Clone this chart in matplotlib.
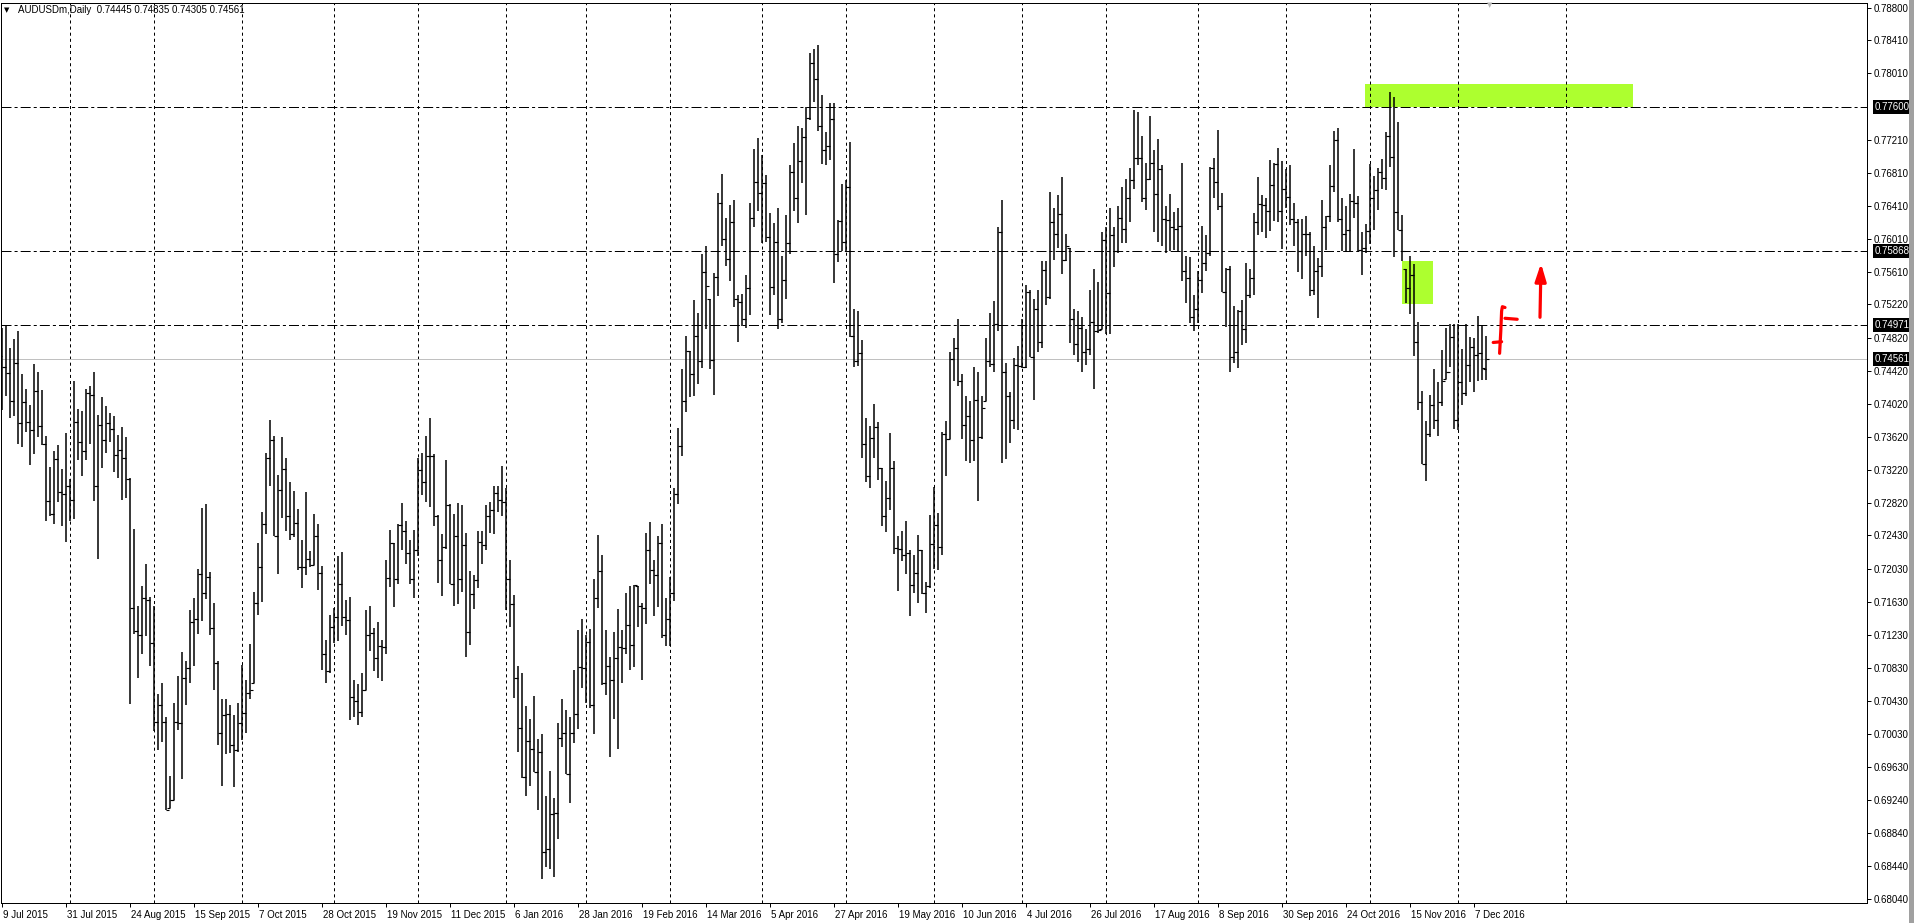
"""MetaTrader style daily bar chart of AUDUSD with the levels and zones drawn on it."""
import numpy as np
import matplotlib
matplotlib.use('Agg')
import matplotlib.pyplot as plt
import matplotlib.transforms as mtransforms
from matplotlib.patches import Rectangle, FancyArrowPatch

plt.rcParams['font.family'] = ['Liberation Sans', 'DejaVu Sans']
plt.rcParams['lines.scale_dashes'] = False

W, H = 1915, 923   # output size in pixels
PX = 0.72          # one pixel in points at dpi 100

SYMBOL = "AUDUSDm,Daily"

# Daily bars from 9 Jul 2015 to 12 Dec 2016, prices in pips (0.0001)
opens = [
    7460, 7446, 7439, 7406, 7451, 7379, 7404, 7380, 7370, 7418, 7375, 7353, 7285, 7269, 7335, 7295, 7293, 7303, 7286, 7380,
    7356, 7345, 7415, 7413, 7303, 7377, 7358, 7379, 7372, 7340, 7346, 7336, 7311, 7156, 7128, 7123, 7167, 7165, 7113, 7018,
    7038, 7018, 6914, 6924, 7018, 7017, 7071, 7083, 7138, 7142, 7197, 7173, 7193, 7131, 7089, 7004, 7026, 7028, 6990, 6984,
    7017, 7029, 7053,
    7065, 7162, 7205, 7257, 7336, 7358, 7242, 7298, 7323, 7267, 7245, 7258, 7205, 7205, 7215, 7207, 7242,
    7198, 7100, 7079, 7132, 7144, 7185, 7145, 7141, 7048, 7043, 7030, 7057, 7123, 7125, 7095, 7110, 7108, 7192, 7234, 7191,
    7256, 7249, 7222, 7191, 7225, 7322, 7307, 7339, 7339, 7267, 7213, 7229, 7280, 7185, 7242, 7191, 7232, 7127, 7172, 7189,
    7235, 7231, 7267, 7274, 7294, 7286, 7284, 7190, 7160, 7071, 7010, 6951, 6995, 6985, 6957, 6982, 6861, 6864, 6907, 6908,
    6998, 7004, 6955, 7005, 7027, 7084, 7083, 7114, 7038, 7167, 7200, 7065, 7085, 7069, 7095, 7108, 7107, 7135, 7111, 7182,
    7158, 7156, 7226, 7201, 7195, 7234, 7123, 7142, 7174, 7293, 7351, 7405, 7466, 7438, 7484, 7454, 7561, 7528, 7455, 7555,
    7645, 7601, 7577, 7621, 7529, 7525, 7505, 7542, 7626, 7670, 7657, 7669, 7603, 7543, 7598, 7504, 7551, 7596, 7682, 7651,
    7695, 7724, 7747, 7813, 7794, 7737, 7708, 7713, 7746, 7583, 7623, 7597, 7664, 7484, 7454, 7463, 7354, 7315, 7361, 7374,
    7325, 7267, 7288, 7324, 7228, 7227, 7219, 7222, 7183, 7198, 7226, 7173, 7182, 7233, 7256, 7229, 7366, 7360, 7456, 7470,
    7430, 7376, 7387, 7358, 7407, 7362, 7406, 7454, 7450, 7498, 7610, 7440, 7412, 7383, 7449, 7448, 7447, 7537, 7459, 7517,
    7477, 7564, 7531, 7622, 7607, 7631, 7576, 7590, 7504, 7474, 7494, 7465, 7468, 7501, 7490, 7492, 7600, 7536, 7606, 7586,
    7627, 7613, 7650, 7672, 7699, 7699, 7651, 7673, 7693, 7655, 7685, 7625, 7624, 7615, 7613, 7617, 7562, 7554, 7507, 7516,
    7551, 7572, 7584, 7687, 7670, 7641, 7537, 7565, 7459, 7465, 7514, 7492, 7534, 7554, 7622, 7643, 7642, 7635, 7666, 7692,
    7635, 7661, 7652, 7625, 7621, 7586, 7607, 7607, 7540, 7562, 7568, 7616, 7629, 7665, 7721, 7625, 7607, 7612, 7647, 7645,
    7588, 7590, 7611, 7651, 7660, 7682, 7675, 7726, 7700, 7634, 7612, 7565, 7542, 7558, 7477, 7404, 7329, 7366, 7401, 7383,
    7404, 7432, 7441, 7483, 7383, 7428, 7415, 7449, 7471, 7461, 7463, 7444.5,
]
highs = [
    7493, 7497, 7470, 7480, 7490, 7438, 7420, 7400, 7450, 7440, 7419, 7363, 7326, 7345, 7352, 7323, 7367, 7311, 7430, 7396,
    7393, 7420, 7423, 7440, 7389, 7410, 7399, 7391, 7387, 7364, 7374, 7362, 7312, 7251, 7158, 7182, 7208, 7169, 7158, 7051,
    7065, 7024, 6952, 7041, 7073, 7102, 7092, 7153, 7168, 7202, 7276, 7281, 7199, 7161, 7092, 7045, 7045, 7038, 7026, 7041,
    7087, 7068, 7112,
    7175, 7234, 7271, 7343, 7382, 7363, 7316, 7362, 7336, 7307, 7297, 7275, 7238, 7295, 7224, 7269, 7257,
    7206, 7117, 7147, 7155, 7218, 7223, 7165, 7169, 7069, 7064, 7077, 7153, 7158, 7131, 7139, 7117, 7213, 7250, 7234, 7257,
    7282, 7261, 7238, 7250, 7336, 7343, 7363, 7385, 7341, 7268, 7245, 7334, 7281, 7269, 7282, 7280, 7246, 7200, 7195, 7249,
    7248, 7280, 7283, 7303, 7303, 7327, 7300, 7214, 7171, 7086, 7077, 7037, 7022, 7049, 6997, 7003, 6929, 6959, 6926, 7017,
    7046, 7032, 7024, 7081, 7129, 7142, 7123, 7130, 7190, 7243, 7219, 7129, 7096, 7127, 7154, 7129, 7173, 7182, 7183, 7182,
    7161, 7246, 7259, 7213, 7242, 7257, 7168, 7193, 7300, 7373, 7444, 7484, 7466, 7527, 7512, 7583, 7593, 7528, 7560, 7657,
    7679, 7626, 7642, 7648, 7534, 7535, 7558, 7645, 7710, 7723, 7702, 7678, 7633, 7620, 7638, 7580, 7630, 7690, 7717, 7737,
    7735, 7760, 7826, 7830, 7835, 7775, 7730, 7765, 7765, 7624, 7668, 7672, 7718, 7517, 7514, 7479, 7385, 7375, 7402, 7380,
    7325, 7309, 7367, 7333, 7242, 7249, 7260, 7226, 7219, 7244, 7226, 7187, 7268, 7301, 7270, 7368, 7381, 7465, 7482, 7504,
    7438, 7412, 7405, 7446, 7440, 7412, 7481, 7512, 7526, 7616, 7648, 7451, 7416, 7457, 7472, 7504, 7545, 7539, 7529, 7539,
    7574, 7575, 7658, 7638, 7654, 7676, 7607, 7590, 7517, 7514, 7507, 7492, 7540, 7565, 7549, 7610, 7615, 7638, 7615, 7641,
    7664, 7674, 7687, 7757, 7755, 7725, 7693, 7749, 7708, 7722, 7691, 7641, 7655, 7634, 7639, 7693, 7580, 7579, 7533, 7562,
    7617, 7606, 7688, 7699, 7733, 7656, 7566, 7568, 7520, 7515, 7527, 7572, 7565, 7632, 7676, 7654, 7650, 7696, 7693, 7711,
    7695, 7685, 7691, 7645, 7625, 7625, 7629, 7610, 7592, 7578, 7648, 7629, 7690, 7731, 7735, 7651, 7641, 7655, 7710, 7653,
    7609, 7619, 7692, 7677, 7687, 7698, 7730, 7778, 7772, 7742, 7630, 7565, 7580, 7571, 7501, 7418, 7381, 7413, 7444, 7428,
    7467, 7494, 7498, 7498, 7498, 7468, 7498, 7483, 7481, 7508, 7496, 7483.5,
]
lows = [
    7394, 7411, 7385, 7387, 7353, 7350, 7368, 7328, 7342, 7362, 7352, 7260, 7266, 7257, 7283, 7255, 7235, 7260, 7263, 7334,
    7315, 7334, 7353, 7285, 7215, 7324, 7343, 7356, 7320, 7313, 7286, 7288, 7039, 7124, 7071, 7100, 7122, 7085, 7007, 6984,
    6994, 6911, 6914, 6923, 7008, 6949, 7038, 7065, 7086, 7124, 7140, 7166, 7123, 7057, 6990, 6941, 6979, 6980, 6939, 6981,
    6996, 7004, 7045,
    7065, 7147, 7163, 7245, 7303, 7242, 7197, 7264, 7248, 7237, 7241, 7201, 7180, 7195, 7205, 7207, 7177,
    7080, 7065, 7077, 7113, 7115, 7134, 7123, 7020, 7024, 7014, 7024, 7056, 7104, 7079, 7071, 7067, 7100, 7181, 7157, 7184,
    7225, 7209, 7184, 7168, 7218, 7292, 7283, 7278, 7255, 7186, 7170, 7227, 7184, 7158, 7160, 7175, 7096, 7111, 7154, 7180,
    7208, 7225, 7246, 7245, 7271, 7266, 7153, 7132, 7047, 6981, 6950, 6929, 6940, 6957, 6911, 6828, 6843, 6840, 6830, 6877,
    6987, 6955, 6920, 6992, 7009, 7059, 7041, 7035, 7003, 7155, 7063, 7050, 6975, 7021, 6985, 7065, 7100, 7081, 7084, 7133,
    7069, 7136, 7185, 7146, 7157, 7119, 7109, 7109, 7164, 7281, 7339, 7392, 7410, 7412, 7426, 7445, 7492, 7444, 7413, 7532,
    7593, 7568, 7550, 7519, 7477, 7496, 7493, 7509, 7615, 7635, 7596, 7598, 7509, 7533, 7492, 7500, 7528, 7583, 7635, 7620,
    7669, 7630, 7745, 7766, 7731, 7692, 7691, 7696, 7548, 7573, 7587, 7587, 7483, 7447, 7448, 7337, 7308, 7300, 7337, 7310,
    7254, 7247, 7274, 7221, 7176, 7212, 7196, 7146, 7174, 7162, 7172, 7149, 7180, 7202, 7201, 7219, 7315, 7360, 7429, 7423,
    7359, 7333, 7330, 7333, 7285, 7360, 7406, 7446, 7441, 7490, 7330, 7335, 7355, 7371, 7370, 7445, 7445, 7459, 7407, 7465,
    7470, 7521, 7529, 7576, 7590, 7559, 7574, 7475, 7461, 7452, 7441, 7449, 7461, 7420, 7487, 7492, 7486, 7486, 7567, 7584,
    7596, 7596, 7622, 7662, 7691, 7646, 7636, 7672, 7609, 7598, 7593, 7584, 7586, 7588, 7586, 7550, 7524, 7500, 7490, 7500,
    7536, 7562, 7580, 7651, 7636, 7537, 7495, 7441, 7451, 7445, 7473, 7475, 7530, 7534, 7606, 7609, 7602, 7611, 7623, 7622,
    7589, 7639, 7618, 7592, 7561, 7553, 7580, 7532, 7534, 7506, 7555, 7588, 7621, 7658, 7621, 7587, 7587, 7587, 7627, 7585,
    7558, 7584, 7595, 7612, 7636, 7661, 7660, 7688, 7579, 7612, 7574, 7524, 7510, 7460, 7395, 7329, 7309, 7362, 7371, 7363,
    7399, 7432, 7446, 7372, 7370, 7400, 7411, 7428, 7416, 7429, 7431, 7430.5,
]
closes = [
    7446, 7439, 7406, 7451, 7379, 7404, 7380, 7370, 7418, 7375, 7353, 7285, 7269, 7335, 7295, 7293, 7303, 7286, 7380, 7356,
    7345, 7415, 7413, 7303, 7377, 7358, 7379, 7372, 7340, 7346, 7336, 7311, 7156, 7128, 7123, 7167, 7165, 7113, 7018, 7038,
    7018, 6912, 6924, 7018, 7017, 7071, 7083, 7138, 7142, 7197, 7173, 7193, 7131, 7089, 7004, 7026, 7028, 6990, 6984, 7017,
    7029, 7053, 7057,
    7162, 7205, 7257, 7336, 7358, 7242, 7298, 7323, 7267, 7245, 7258, 7205, 7205, 7215, 7207, 7242, 7198,
    7100, 7079, 7132, 7144, 7185, 7145, 7141, 7048, 7043, 7030, 7057, 7123, 7125, 7095, 7110, 7108, 7192, 7234, 7191, 7256,
    7249, 7222, 7191, 7225, 7322, 7307, 7339, 7339, 7267, 7213, 7229, 7280, 7185, 7242, 7191, 7232, 7127, 7172, 7189, 7235,
    7231, 7267, 7274, 7294, 7286, 7284, 7190, 7160, 7071, 7010, 6951, 6995, 6985, 6957, 6982, 6861, 6864, 6907, 6908, 6998,
    7004, 6955, 7005, 7027, 7084, 7083, 7114, 7038, 7167, 7200, 7065, 7085, 7069, 7095, 7108, 7107, 7135, 7111, 7183, 7158,
    7156, 7226, 7201, 7195, 7234, 7123, 7142, 7174, 7293, 7351, 7405, 7466, 7438, 7484, 7454, 7561, 7544, 7455, 7555, 7645,
    7601, 7577, 7621, 7529, 7525, 7505, 7542, 7626, 7670, 7657, 7669, 7603, 7543, 7598, 7504, 7551, 7596, 7682, 7651, 7695,
    7724, 7747, 7813, 7794, 7737, 7708, 7713, 7746, 7583, 7623, 7597, 7664, 7484, 7454, 7463, 7354, 7315, 7361, 7374, 7325,
    7267, 7288, 7324, 7228, 7227, 7219, 7222, 7183, 7198, 7226, 7173, 7182, 7233, 7256, 7229, 7366, 7360, 7456, 7470, 7430,
    7376, 7387, 7358, 7407, 7362, 7397, 7454, 7450, 7498, 7610, 7440, 7412, 7383, 7449, 7448, 7447, 7537, 7459, 7517, 7477,
    7564, 7531, 7622, 7607, 7631, 7576, 7593, 7504, 7474, 7494, 7465, 7468, 7501, 7490, 7491, 7600, 7536, 7606, 7586, 7627,
    7613, 7650, 7672, 7699, 7699, 7651, 7673, 7693, 7655, 7685, 7625, 7624, 7615, 7613, 7617, 7562, 7554, 7507, 7516, 7551,
    7572, 7584, 7687, 7670, 7641, 7537, 7565, 7459, 7465, 7514, 7492, 7534, 7554, 7622, 7643, 7642, 7635, 7666, 7692, 7635,
    7661, 7652, 7625, 7621, 7586, 7607, 7607, 7540, 7562, 7568, 7616, 7629, 7665, 7721, 7625, 7607, 7612, 7647, 7645, 7588,
    7590, 7611, 7651, 7660, 7682, 7675, 7726, 7700, 7634, 7612, 7587, 7542, 7558, 7477, 7404, 7329, 7366, 7401, 7383, 7404,
    7430, 7441, 7483, 7383, 7428, 7415, 7449, 7471, 7461, 7463, 7445, 7456.1,
]

# MT4 writes a date under every 16th bar
date_labels = [
    "9 Jul 2015", "31 Jul 2015", "24 Aug 2015", "15 Sep 2015", "7 Oct 2015", "28 Oct 2015",
    "19 Nov 2015", "11 Dec 2015", "6 Jan 2016", "28 Jan 2016", "19 Feb 2016", "14 Mar 2016",
    "5 Apr 2016", "27 Apr 2016", "19 May 2016", "10 Jun 2016", "4 Jul 2016", "26 Jul 2016",
    "17 Aug 2016", "8 Sep 2016", "30 Sep 2016", "24 Oct 2016", "15 Nov 2016", "7 Dec 2016",
]
LABEL_STEP = 16
# First bar of every month, where the period separators go
month_starts = [17, 38, 60, 83, 104, 126, 146, 167, 190, 211, 233, 255, 276, 299, 321, 342, 364, 391]

# Price scale labels (pips)
price_ticks = [7880, 7841, 7801, 7721, 7681, 7641, 7601, 7561, 7522, 7482, 7442, 7402, 7362, 7322,
               7282, 7243, 7203, 7163, 7123, 7083, 7043, 7003, 6963, 6924, 6884, 6844, 6804]
# Horizontal levels drawn on the chart (pips)
levels = [7760.0, 7586.8, 7497.1]

# Green zones: first bar, last bar, low, high (pips)
zones = [(340.85, 407.8, 7760.8, 7788.2), (350.0, 357.8, 7522.9, 7574.5)]

# Red pen marks: bar position, pips
bracket_bars = [375.85, 375.2, 375.0, 374.8, 374.5]
bracket_pips = [7518.3, 7519.3, 7514.0, 7490.0, 7463.0]
bracket_tick_bars = [372.9, 375.0]
bracket_tick_pips = [7476.1, 7477.0]
dash_bars = [375.85, 378.9]
dash_pips = [7505.3, 7504.1]
arrow_from = (384.6, 7506.5)
arrow_to = (384.85, 7571.7)

assert len(opens) == len(highs) == len(lows) == len(closes) == 372


def price(p):
    """Pips to price."""
    return np.asarray(p, dtype=float) / 10000


def fmt(p):
    """Price label with five decimals, from pips."""
    return "0.%05d" % round(p * 10)


def drawBars(ax):
    """Draws the OHLC bars: high-low line, open tick on the left, close tick on the right."""
    x = np.arange(len(closes))
    ax.vlines(x, price(lows), price(highs), color='black', lw=1.1, zorder=3)
    ax.hlines(price(opens), x - 0.75, x, color='black', lw=0.8, zorder=3)
    ax.hlines(price(closes), x, x + 0.75, color='black', lw=0.8, zorder=3)


def drawObjects(ax):
    """Separators, levels, bid line, the green zones and the red pen marks."""
    for b in month_starts:
        ax.axvline(b, color='black', lw=PX, ls=(0, (2.2, 2.2)), zorder=1)
    for lv in levels:
        ax.axhline(price(lv), color='black', lw=PX, ls=(0, (7.2, 2.2, 2.2, 2.2)), zorder=2)
    ax.axhline(price(closes[-1]), color='#c0c0c0', lw=PX, zorder=2)
    for b0, b1, p0, p1 in zones:
        ax.add_patch(Rectangle((b0, price(p0)), b1 - b0, price(p1) - price(p0),
                               fc='#adff2f', ec='none', zorder=0.5))
    # Red marks
    pen = dict(color='#ff0000', lw=2.3, solid_capstyle='round', solid_joinstyle='round', zorder=5)
    ax.plot(bracket_bars, price(bracket_pips), **pen)
    ax.plot(bracket_tick_bars, price(bracket_tick_pips), **pen)
    ax.plot(dash_bars, price(dash_pips), **pen)
    ax.add_patch(FancyArrowPatch((arrow_from[0], price(arrow_from[1])), (arrow_to[0], price(arrow_to[1])),
                                 arrowstyle='-|>,head_length=0.7,head_width=0.22', mutation_scale=15,
                                 color='#ff0000', lw=2.3, shrinkA=0, shrinkB=0, zorder=5))


fig = plt.figure(figsize=(W / 100, H / 100), dpi=100, facecolor='white')
ax = fig.add_axes([0.5 / W, (H - 903) / H, 1866.5 / W, 900 / H])
ax.set_xlim(-0.275, 466.35)
ax.set_ylim(price(6799.2), price(7886.04))

drawObjects(ax)
drawBars(ax)

for side in ax.spines.values():
    side.set_linewidth(PX)
    side.set_color('black')

# Price scale on the right
ax.yaxis.tick_right()
ax.set_yticks(price(price_ticks))
ax.set_yticklabels([fmt(p) for p in price_ticks])
ax.tick_params(axis='y', length=2.9, width=PX, pad=2, labelsize=7, colors='black')

# Dates along the bottom, written to the right of their tick
ax.set_xticks([LABEL_STEP * i for i in range(len(date_labels))])
ax.set_xticklabels(date_labels, ha='left')
ax.tick_params(axis='x', length=2.9, width=PX, pad=2, labelsize=7, colors='black')
for lab in ax.get_xticklabels():
    lab.set_transform(lab.get_transform() + mtransforms.ScaledTranslation(1 / 100, 0, fig.dpi_scale_trans))

# Highlighted prices of the levels and the last close
trans = mtransforms.blended_transform_factory(ax.transAxes, ax.transData)
for lv in levels + [closes[-1]]:
    ax.text(1 + 7.5 / 1866.5, price(lv), fmt(lv), transform=trans, color='white', fontsize=7,
            va='center', ha='left', zorder=6,
            bbox=dict(boxstyle='square,pad=0.2', fc='black', ec='none'))

# Chart title with the last bar
title = "%s  %s %s %s %s" % (SYMBOL, fmt(opens[-1]), fmt(highs[-1]), fmt(lows[-1]), fmt(closes[-1]))
ax.text(18 / 1866.5, 1 - 7 / 900, title, transform=ax.transAxes, fontsize=7, va='center', ha='left')
ax.text(3.5 / 1866.5, 1 - 7 / 900, '\u25bc', transform=ax.transAxes, fontsize=5, va='center', ha='left',
        family='DejaVu Sans')

# Chart shift marker and the window edge on the right
fig.text(1490 / W, 1 - 5 / H, '\u25bc', color='#b8b8b8', fontsize=5, ha='center', va='center',
         family='DejaVu Sans')
fig.add_artist(Rectangle((1909 / W, 0), 6 / W, 1, transform=fig.transFigure, fc='#a0a0a0', ec='none'))

fig.savefig('out.png', dpi=100, facecolor='white')
